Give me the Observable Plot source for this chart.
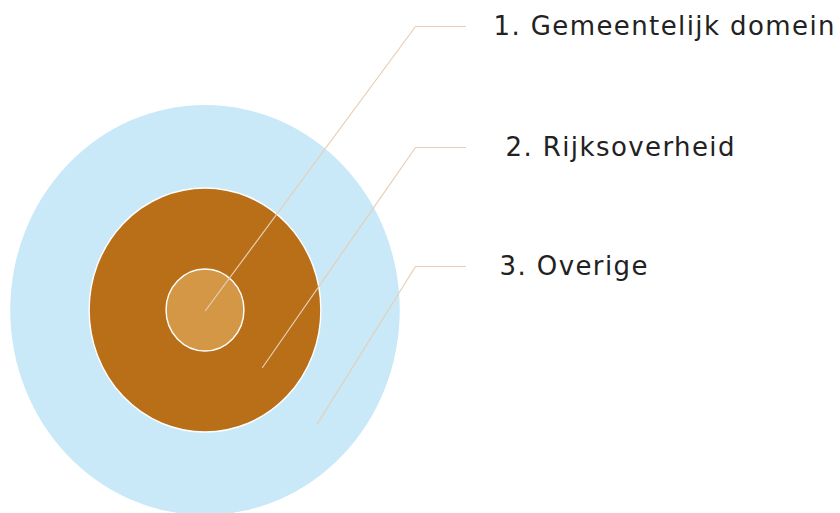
<!DOCTYPE html>
<html>
<head>
<meta charset="utf-8">
<script src="https://cdn.jsdelivr.net/npm/d3@7"></script>
<script src="https://cdn.jsdelivr.net/npm/@observablehq/plot@0.6"></script>
<style>
  html, body { margin: 0; padding: 0; background: #ffffff; }
  #chart { width: 840px; height: 513px; }
  .labels text { letter-spacing: 1.4px; }
</style>
</head>
<body>
<div id="chart"></div>
<script>
// Categories (rings, inside to outside)
const categories = ["1. Gemeentelijk domein", "2. Rijksoverheid", "3. Overige"];
// Ring radii (diagram units)
const radii = [41, 122, 205];
const colors = ["#d39746", "#b96f17", "#c9e8f8"];
// Leader-line anchor inside each ring (diagram units, centre = 0,0)
const anchorX = [0, 57, 112];
const anchorY = [0, -57, -113];
// Elbow and label rows
const elbowX = 210;
const lineEndX = 260;
const labelY = [284, 163, 44];
const labelX = [288, 300, 294];

const rings = categories.map((c, i) => ({ name: c, r: radii[i], color: colors[i], x: 0, y: 0 }))
  .sort((a, b) => b.r - a.r);

const leaders = categories.flatMap((c, i) => [
  { name: c, x: anchorX[i], y: anchorY[i] },
  { name: c, x: elbowX, y: labelY[i] },
  { name: c, x: lineEndX, y: labelY[i] }
]);

const labels = categories.map((c, i) => ({ name: c, x: labelX[i], y: labelY[i] }));

const chart = Plot.plot({
  width: 840,
  height: 513,
  margin: 0,
  style: { background: "#ffffff", fontFamily: "'DejaVu Sans', Verdana, sans-serif" },
  x: { domain: [-205, 635], range: [0, 840], axis: null },
  y: { domain: [-203, 310], range: [513, 0], axis: null },
  r: { type: "linear", domain: [0, 205], range: [0, 205] },
  marks: [
    Plot.dot(rings, {
      x: "x", y: "y", r: "r",
      fill: d => d.color,
      stroke: d => d.r === 205 ? "none" : "#ffffff",
      strokeWidth: 1.5,
      className: "rings"
    }),
    Plot.line(leaders, {
      x: "x", y: "y", z: "name",
      stroke: "#e6cfb6", strokeWidth: 1.2, curve: "linear"
    }),
    Plot.text(labels, {
      x: "x", y: "y", text: "name",
      textAnchor: "start", fontSize: 26, fill: "#222222",
      className: "labels"
    })
  ]
});

document.getElementById("chart").appendChild(chart);

// Rings are slightly taller than wide in the reference
const cx = 205, cy = 310, sx = 0.95;
d3.select(chart).selectAll("g.rings, g[aria-label='dot']")
  .attr("transform", `translate(${cx},${cy}) scale(${sx},1) translate(${-cx},${-cy})`);
</script>
</body>
</html>
